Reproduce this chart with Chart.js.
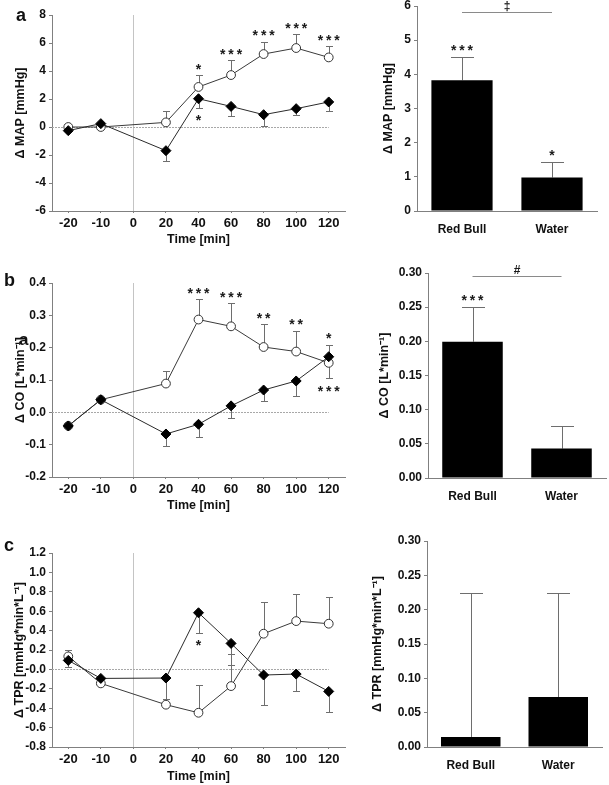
<!DOCTYPE html>
<html>
<head>
<meta charset="utf-8">
<script src="https://cdn.jsdelivr.net/npm/chart.js@4.4.1/dist/chart.umd.min.js"></script>
<style>
  body { margin: 0; background: #fff; width: 609px; height: 785px; overflow: hidden; position: relative; font-family: 'Liberation Sans', Arial, sans-serif; }
  canvas { position: absolute; }
  .lbl { position: absolute; font-weight: bold; font-size: 18px; line-height: 1; color: #111; }
</style>
</head>
<body>
<canvas id="lineA"></canvas>
<canvas id="barA"></canvas>
<canvas id="lineB"></canvas>
<canvas id="barB"></canvas>
<canvas id="lineC"></canvas>
<canvas id="barC"></canvas>
<div class="lbl" style="left:16px;top:6px">a</div>
<div class="lbl" style="left:4px;top:271px">b</div>
<div class="lbl" style="left:19px;top:331px;font-size:17px">a</div>
<div class="lbl" style="left:4px;top:536px">c</div>
<script>
// time points (0 = drink, no measurement)
const times = ['-20', '-10', '0', '20', '40', '60', '80', '100', '120'];
const groups = ['Red Bull', 'Water'];

// a: delta MAP [mmHg]  (errors: + drawn up, - drawn down)
const mapRedBull = [0.0, 0.0, null, 0.33, 2.86, 3.71, 5.21, 5.64, 4.97];
const mapRedBullErr = [0, 0, null, 0.78, 0.85, 1.07, 0.88, 1.0, 0.79];
const mapRedBullSig = ['', '', '', '', '*', '***', '***', '***', '***'];
const mapWater = [-0.26, 0.24, null, -1.69, 2.02, 1.47, 0.88, 1.31, 1.79];
const mapWaterErr = [0, 0, null, -0.77, -0.66, -0.71, -0.83, -0.48, -0.68];
const mapWaterSig = ['', '', '', '', '*', '', '', '', ''];
const mapBar = [3.83, 0.98];
const mapBarErr = [0.69, 0.46];
const mapBarSig = ['***', '*'];
const mapDiff = [5.82, '\u2021'];

// b: delta CO [L*min-1]
const coRedBull = [-0.042, 0.039, null, 0.089, 0.287, 0.266, 0.202, 0.188, 0.153];
const coRedBullErr = [0, 0, null, 0.039, 0.062, 0.072, 0.071, 0.065, -0.047];
const coRedBullSig = ['', '', '', '', '***', '***', '**', '**', '***'];
const coWater = [-0.042, 0.039, null, -0.067, -0.037, 0.020, 0.069, 0.097, 0.172];
const coWaterErr = [0, 0, null, -0.038, -0.038, -0.039, -0.035, -0.046, 0.037];
const coWaterSig = ['', '', '', '', '', '', '', '', '*'];
const coBar = [0.1995, 0.043];
const coBarErr = [0.051, 0.033];
const coBarSig = ['***', ''];
const coDiff = [0.296, '#'];

// c: delta TPR [mmHg*min*L-1]
const tprRedBull = [0.134, -0.144, null, -0.364, -0.447, -0.172, 0.368, 0.498, 0.471];
const tprRedBullErr = [0.07, 0, null, 0, 0.29, 0.327, 0.33, 0.28, 0.275];
const tprRedBullSig = ['', '', '', '', '', '', '', '', ''];
const tprWater = [0.093, -0.093, null, -0.089, 0.584, 0.268, -0.058, -0.048, -0.227];
const tprWaterErr = [-0.07, 0, null, -0.22, -0.206, -0.227, -0.31, -0.175, -0.216];
const tprWaterSig = ['', '', '', '', '*', '', '', '', ''];
const tprBar = [0.0146, 0.0728];
const tprBarErr = [0.21, 0.152];
const tprBarSig = ['', ''];

// y ranges [min, max, step]
const mapRange = [-6, 8, 2];
const coRange = [-0.2, 0.4, 0.1];
const tprRange = [-0.8, 1.2, 0.2];
const mapBarRange = [0, 6, 1];
const coBarRange = [0, 0.3, 0.05];
const tprBarRange = [0, 0.3, 0.05];

const FONT = "'Liberation Sans', Arial, sans-serif";
const INK = '#111';
const AXIS = '#808080';
const tickFont = { family: FONT, size: 12, weight: 'bold' };
const timeFont = { family: FONT, size: 13, weight: 'bold' };
const titleFont = { family: FONT, size: 12.5, weight: 'bold' };

// error bars, reference lines, asterisks, bracket
const marks = {
  id: 'marks',
  beforeDatasetsDraw(chart, args, opts) {
    const { ctx, chartArea: a, scales: { x, y } } = chart;
    ctx.save();
    ctx.lineWidth = 1;
    if (opts.refLines) {
      ctx.strokeStyle = '#c4c4c4';
      const x0 = Math.round(x.getPixelForValue(times.indexOf('0'))) + 0.5;
      ctx.beginPath(); ctx.moveTo(x0, a.top); ctx.lineTo(x0, a.bottom); ctx.stroke();
      const y0 = Math.round(y.getPixelForValue(0)) + 0.5;
      ctx.strokeStyle = '#a8a8a8';
      ctx.setLineDash([2, 1]);
      ctx.beginPath(); ctx.moveTo(a.left, y0); ctx.lineTo(x.getPixelForValue(times.length - 1), y0); ctx.stroke();
      ctx.setLineDash([]);
    }
    ctx.strokeStyle = '#6e6e6e';
    chart.data.datasets.forEach((ds, di) => {
      const meta = chart.getDatasetMeta(di);
      ds.errs.forEach((e, i) => {
        if (!e || ds.data[i] == null) return;
        const px = Math.round(meta.data[i].x) + 0.5;
        const p0 = y.getPixelForValue(ds.data[i]);
        const p1 = Math.round(y.getPixelForValue(ds.data[i] + e)) + 0.5;
        ctx.beginPath();
        ctx.moveTo(px, p0); ctx.lineTo(px, p1);
        ctx.moveTo(px - opts.cap, p1); ctx.lineTo(px + opts.cap, p1);
        ctx.stroke();
      });
    });
    ctx.restore();
  },
  afterDatasetsDraw(chart, args, opts) {
    const { ctx, scales: { y } } = chart;
    ctx.save();
    ctx.fillStyle = '#1a1a1a';
    ctx.font = 'bold 14px ' + FONT;
    ctx.textAlign = 'center';
    ctx.textBaseline = 'alphabetic';
    chart.data.datasets.forEach((ds, di) => {
      const meta = chart.getDatasetMeta(di);
      ds.stars.forEach((s, i) => {
        if (!s || ds.data[i] == null) return;
        const e = ds.errs[i];
        const dir = e < 0 ? 1 : -1;
        const cy = y.getPixelForValue(ds.data[i] + e) + dir * 9.5;
        const px = meta.data[i].x;
        for (let k = 0; k < s.length; k++) {
          ctx.fillText('*', px + (k - (s.length - 1) / 2) * 8.3, cy + 8);
        }
      });
    });
    if (opts.diff) {
      const meta = chart.getDatasetMeta(0);
      const ly = Math.round(y.getPixelForValue(opts.diff[0])) + 0.5;
      ctx.strokeStyle = '#8a8a8a';
      ctx.lineWidth = 1;
      ctx.beginPath(); ctx.moveTo(meta.data[0].x, ly); ctx.lineTo(meta.data[1].x, ly); ctx.stroke();
      ctx.font = 'bold 12px ' + FONT;
      ctx.textBaseline = 'middle';
      ctx.fillText(opts.diff[1], (meta.data[0].x + meta.data[1].x) / 2, ly - 6);
    }
    ctx.restore();
  }
};

function place(cv, box) {
  cv.style.left = box.x + 'px';
  cv.style.top = box.y + 'px';
  cv.width = box.w;
  cv.height = box.h;
}

function yAxis(range, fmt, box, area, title, titleX) {
  return {
    min: range[0], max: range[1],
    ticks: { stepSize: range[2], callback: fmt, color: INK, padding: 3, font: tickFont },
    grid: { drawOnChartArea: false, tickLength: 3, color: AXIS },
    border: { color: AXIS },
    title: { display: true, text: title, color: INK, font: titleFont, padding: { top: titleX - box.x - 7.5, bottom: 0 } },
    afterFit: s => { s.width = area.left - box.x; s.paddingTop = 0; s.paddingBottom = 0; }
  };
}

function xAxis(box, area, title) {
  const line = !!title;
  return {
    offset: true,
    grid: line ? { drawOnChartArea: false, tickLength: 2, color: AXIS } : { display: false },
    border: { color: AXIS },
    ticks: { color: INK, padding: line ? 2.5 : 3, font: line ? timeFont : tickFont, maxRotation: 0, autoSkip: false },
    title: line ? { display: true, text: title, color: INK, font: titleFont, padding: { top: 0, bottom: 4 } } : { display: false },
    afterFit: s => { s.height = box.y + box.h - area.bottom; s.paddingLeft = 0; s.paddingRight = 0; }
  };
}

function makeLine(id, box, area, range, fmt, title, titleX, rb, rbErr, rbSig, w, wErr, wSig) {
  const cv = document.getElementById(id);
  place(cv, box);
  return new Chart(cv, {
    type: 'line',
    data: {
      labels: times,
      datasets: [
        { label: 'Water', data: w, errs: wErr, stars: wSig, order: 0, spanGaps: true,
          borderColor: '#2a2a2a', borderWidth: 1, tension: 0,
          pointStyle: 'rectRot', pointRadius: 5, pointBackgroundColor: '#000', pointBorderColor: '#000', pointBorderWidth: 1 },
        { label: 'Red Bull', data: rb, errs: rbErr, stars: rbSig, order: 1, spanGaps: true,
          borderColor: '#3a3a3a', borderWidth: 1, tension: 0,
          pointStyle: 'circle', pointRadius: 4.4, pointBackgroundColor: '#fff', pointBorderColor: '#333', pointBorderWidth: 1 }
      ]
    },
    options: {
      responsive: false,
      animation: false,
      layout: { padding: { top: area.top - box.y, right: box.x + box.w - area.right, left: 0, bottom: 0 } },
      plugins: { legend: { display: false }, tooltip: { enabled: false }, marks: { cap: 3.5, refLines: true } },
      scales: {
        x: xAxis(box, area, 'Time [min]'),
        y: yAxis(range, fmt, box, area, title, titleX)
      }
    },
    plugins: [marks]
  });
}

function makeBar(id, box, area, range, fmt, title, titleX, vals, errs, sig, diff) {
  const cv = document.getElementById(id);
  place(cv, box);
  return new Chart(cv, {
    type: 'bar',
    data: {
      labels: groups,
      datasets: [{ data: vals, errs: errs, stars: sig, backgroundColor: '#000', borderWidth: 0,
        barPercentage: 0.68, categoryPercentage: 1 }]
    },
    options: {
      responsive: false,
      animation: false,
      layout: { padding: { top: area.top - box.y, right: box.x + box.w - area.right, left: 0, bottom: 0 } },
      plugins: { legend: { display: false }, tooltip: { enabled: false }, marks: { cap: 11.5, diff: diff } },
      scales: {
        x: xAxis(box, area, null),
        y: yAxis(range, fmt, box, area, title, titleX)
      }
    },
    plugins: [marks]
  });
}

const f0 = v => String(v);
const f1 = v => v.toFixed(1);
const f1neg = v => (Math.abs(v) < 1e-9 ? '-0.0' : v.toFixed(1));
const f2 = v => v.toFixed(2);

makeLine('lineA', { x: 0, y: 0, w: 360, h: 251 }, { left: 52, right: 345, top: 15, bottom: 211 },
  mapRange, f0, '\u0394 MAP [mmHg]', 21,
  mapRedBull, mapRedBullErr, mapRedBullSig, mapWater, mapWaterErr, mapWaterSig);
makeLine('lineB', { x: 0, y: 262, w: 360, h: 255 }, { left: 52, right: 345, top: 283, bottom: 477 },
  coRange, f1, '\u0394 CO [L*min\u207B\u00B9]', 21,
  coRedBull, coRedBullErr, coRedBullSig, coWater, coWaterErr, coWaterSig);
makeLine('lineC', { x: 0, y: 532, w: 360, h: 256 }, { left: 52, right: 345, top: 553, bottom: 747 },
  tprRange, f1neg, '\u0394 TPR [mmHg*min*L\u207B\u00B9]', 19.5,
  tprRedBull, tprRedBullErr, tprRedBullSig, tprWater, tprWaterErr, tprWaterSig);

makeBar('barA', { x: 360, y: 0, w: 249, h: 240 }, { left: 417, right: 597, top: 6, bottom: 211 },
  mapBarRange, f0, '\u0394 MAP [mmHg]', 388.5, mapBar, mapBarErr, mapBarSig, mapDiff);
makeBar('barB', { x: 360, y: 262, w: 249, h: 240 }, { left: 428, right: 606, top: 273, bottom: 478 },
  coBarRange, f2, '\u0394 CO [L*min\u207B\u00B9]', 384.5, coBar, coBarErr, coBarSig, coDiff);
makeBar('barC', { x: 360, y: 532, w: 249, h: 240 }, { left: 427, right: 602, top: 541, bottom: 747 },
  tprBarRange, f2, '\u0394 TPR [mmHg*min*L\u207B\u00B9]', 378, tprBar, tprBarErr, tprBarSig, null);
</script>
</body>
</html>
